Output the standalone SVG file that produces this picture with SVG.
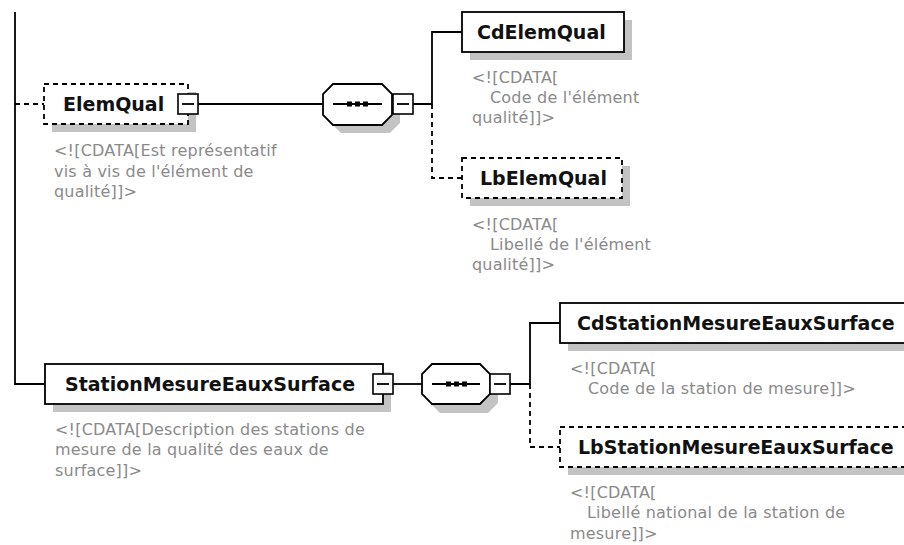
<svg xmlns="http://www.w3.org/2000/svg" width="904" height="545" viewBox="0 0 904 545">
<style>
.bg{fill:#ffffff}
.box{fill:#ffffff;stroke:#000;stroke-width:1.8}
.dbox{fill:#ffffff;stroke:#000;stroke-width:1.8;stroke-dasharray:5 4}
.sh{fill:#c3c3c3}
.btn{fill:#ffffff;stroke:#000;stroke-width:1.6}
.ln{fill:none;stroke:#000;stroke-width:1.8}
.dln{fill:none;stroke:#000;stroke-width:1.8;stroke-dasharray:5 4}
.ttl{font-family:"DejaVu Sans",Verdana,sans-serif;font-weight:bold;font-size:19px;fill:#111}
.cmt{font-family:"DejaVu Sans",Verdana,sans-serif;font-size:16px;fill:#8a8a8a;letter-spacing:0.2px}
.dot{fill:#000}
</style>
<rect class="bg" x="0" y="0" width="904" height="545"/>

<g id="connectors">
  <path class="ln" d="M15 12 V384 H45"/>
  <path class="dln" d="M15 104 H44"/>
  <path class="ln" d="M198 104 H323"/>
  <path class="ln" d="M413 104 H432 V32 H462"/>
  <path class="dln" d="M432 104 V178 H462"/>
  <path class="ln" d="M393 384 H422"/>
  <path class="ln" d="M510 384 H530 V323 H560"/>
  <path class="dln" d="M530 384 V447 H560"/>
</g>

<g id="ElemQual">
  <rect class="sh" x="52" y="92" width="144" height="40"/>
  <rect class="dbox" x="44" y="84" width="144" height="40"/>
  <text class="ttl" x="63" y="111">ElemQual</text>
  <rect class="btn" x="178" y="94" width="20" height="20"/>
  <path class="ln" d="M182 104 H194"/>
  <text class="cmt" x="54" y="156">&lt;![CDATA[Est représentatif</text>
  <text class="cmt" x="54" y="177">vis à vis de l'élément de</text>
  <text class="cmt" x="54" y="197">qualité]]&gt;</text>
</g>

<g id="seq1">
  <path class="sh" d="M341 92 H390 L400 102 V123 L390 133 H341 L331 123 V102 Z"/>
  <path class="box" d="M333 84 H382 L392 94 V115 L382 125 H333 L323 115 V94 Z"/>
  <path class="ln" d="M333 104 H382"/>
  <rect class="dot" x="347" y="101.5" width="5" height="5"/>
  <rect class="dot" x="355" y="101.5" width="5" height="5"/>
  <rect class="dot" x="363" y="101.5" width="5" height="5"/>
  <rect class="btn" x="393" y="94" width="20" height="20"/>
  <path class="ln" d="M397 104 H409"/>
</g>

<g id="CdElemQual">
  <rect class="sh" x="470" y="20" width="162" height="40"/>
  <rect class="box" x="462" y="12" width="162" height="40"/>
  <text class="ttl" x="477" y="39">CdElemQual</text>
  <text class="cmt" x="472" y="83">&lt;![CDATA[</text>
  <text class="cmt" x="490" y="103">Code de l'élément</text>
  <text class="cmt" x="472" y="123">qualité]]&gt;</text>
</g>

<g id="LbElemQual">
  <rect class="sh" x="470" y="166" width="160" height="40"/>
  <rect class="dbox" x="462" y="158" width="160" height="40"/>
  <text class="ttl" x="480" y="185">LbElemQual</text>
  <text class="cmt" x="472" y="230">&lt;![CDATA[</text>
  <text class="cmt" x="490" y="250">Libellé de l'élément</text>
  <text class="cmt" x="472" y="270">qualité]]&gt;</text>
</g>

<g id="StationMesureEauxSurface">
  <rect class="sh" x="53" y="372" width="338" height="40"/>
  <rect class="box" x="45" y="364" width="338" height="40"/>
  <text class="ttl" x="65" y="391">StationMesureEauxSurface</text>
  <rect class="btn" x="373" y="374" width="20" height="20"/>
  <path class="ln" d="M377 384 H389"/>
  <text class="cmt" x="55" y="435">&lt;![CDATA[Description des stations de</text>
  <text class="cmt" x="55" y="455">mesure de la qualité des eaux de</text>
  <text class="cmt" x="55" y="476">surface]]&gt;</text>
</g>

<g id="seq2">
  <path class="sh" d="M440 372 H488 L498 382 V403 L488 413 H440 L430 403 V382 Z"/>
  <path class="box" d="M432 364 H480 L490 374 V394 L480 404 H432 L422 394 V374 Z"/>
  <path class="ln" d="M432 384 H480"/>
  <rect class="dot" x="446" y="381.5" width="5" height="5"/>
  <rect class="dot" x="454" y="381.5" width="5" height="5"/>
  <rect class="dot" x="462" y="381.5" width="5" height="5"/>
  <rect class="btn" x="490" y="374" width="20" height="20"/>
  <path class="ln" d="M494 384 H506"/>
</g>

<g id="CdStationMesureEauxSurface">
  <rect class="sh" x="568" y="311" width="360" height="40"/>
  <rect class="box" x="560" y="303" width="360" height="40"/>
  <text class="ttl" x="577" y="330">CdStationMesureEauxSurface</text>
  <text class="cmt" x="570" y="374">&lt;![CDATA[</text>
  <text class="cmt" x="588" y="394">Code de la station de mesure]]&gt;</text>
</g>

<g id="LbStationMesureEauxSurface">
  <rect class="sh" x="568" y="435" width="360" height="40"/>
  <rect class="dbox" x="560" y="427" width="360" height="40"/>
  <text class="ttl" x="578" y="454">LbStationMesureEauxSurface</text>
  <text class="cmt" x="570" y="498">&lt;![CDATA[</text>
  <text class="cmt" x="587" y="518">Libellé national de la station de</text>
  <text class="cmt" x="570" y="539">mesure]]&gt;</text>
</g>
</svg>
